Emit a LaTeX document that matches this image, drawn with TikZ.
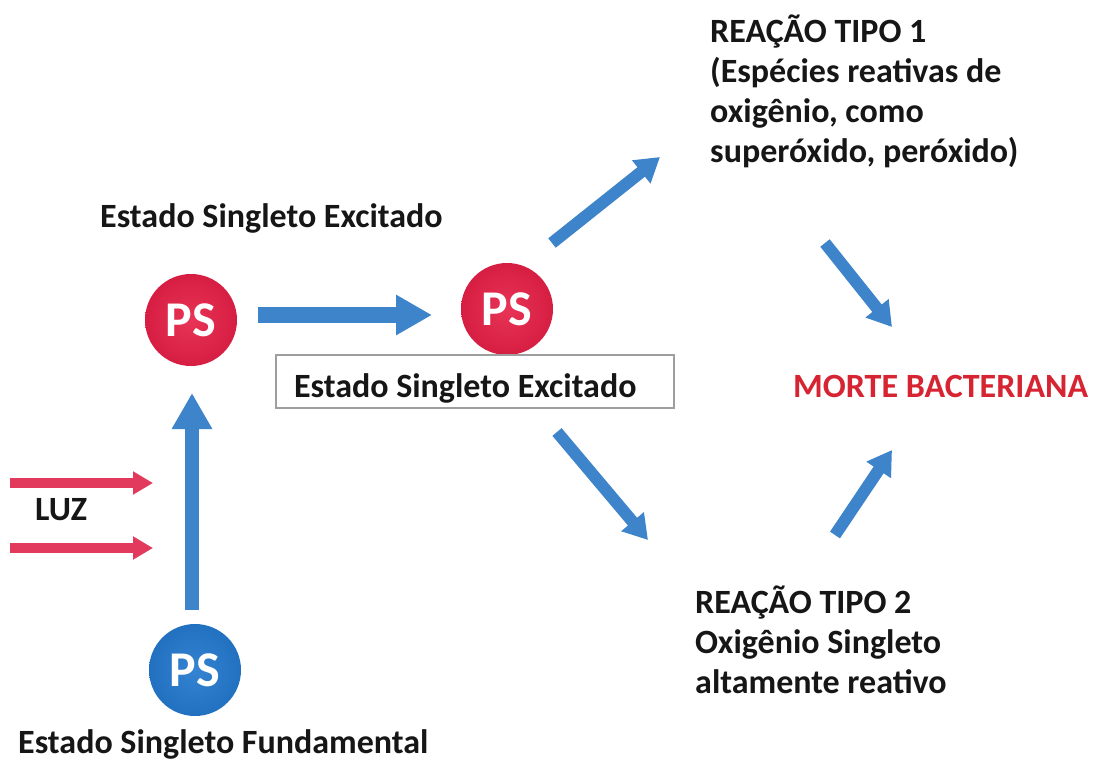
\documentclass[tikz,border=0pt]{standalone}
\usepackage{fontspec}
\setmainfont{Carlito}
\usetikzlibrary{arrows.meta}
\definecolor{arrblue}{RGB}{62,132,202}
\definecolor{psred}{RGB}{214,30,66}
\definecolor{psredin}{RGB}{232,52,86}
\definecolor{psblue}{RGB}{34,112,192}
\definecolor{psbluein}{RGB}{52,132,210}
\definecolor{luzred}{RGB}{226,58,92}
\definecolor{morte}{RGB}{214,36,50}
\definecolor{txt}{RGB}{22,22,22}
\tikzset{
  psball/.style={circle,minimum size=92pt,inner sep=0pt,text=white,font=\bfseries\fontsize{50}{50}\selectfont},
  lbl/.style={font=\bfseries\fontsize{34}{40}\selectfont,text=txt,align=left,inner sep=0pt},
  barrow/.style={draw=arrblue,line width=16pt,-{Triangle[width=38pt,length=36pt]}},
  darrow/.style={draw=arrblue,line width=12pt,-{Triangle[width=28pt,length=24pt]}},
  rarrow/.style={draw=luzred,line width=10pt,-{Triangle[width=22pt,length=20pt]}},
}
\begin{document}
\begin{tikzpicture}[x=1pt,y=-1pt]
\useasboundingbox (0,0) rectangle (1093,763);
\fill[white] (0,0) rectangle (1093,763);
% balls
\node[psball,inner color=psredin,outer color=psred] (ps1) at (191,320) {PS};
\node[psball,inner color=psredin,outer color=psred] (ps2) at (507,309) {PS};
\node[psball,inner color=psbluein,outer color=psblue] (ps0) at (195,670) {PS};
% labels
\node[lbl,anchor=base west] (t1) at (100,227) {Estado Singleto Excitado};
\node[lbl,draw=black!38,line width=2pt,anchor=base west,inner xsep=18pt,inner ysep=0pt,
      text width=362pt,align=flush left,text height=42pt,text depth=11pt] (box) at (275,397) {Estado Singleto Excitado};
\node[lbl,anchor=base west] (t0) at (18,753) {Estado Singleto Fundamental};
\node[lbl,anchor=base west] (luz) at (35,520) {LUZ};
\node[lbl,anchor=base west] (r1) at (710,162) {REAÇÃO TIPO 1\\(Espécies reativas de\\oxigênio, como\\superóxido, peróxido)};
\node[lbl,anchor=base west] (r2) at (695,693) {REAÇÃO TIPO 2\\Oxigênio Singleto\\altamente reativo};
\node[lbl,text=morte,anchor=base west] (morte) at (793,397) {MORTE BACTERIANA};
% coordinates for arrow ends
\coordinate (h1) at (258,315);
\coordinate (h2) at (432,315);
\coordinate (v1) at (192,610);
\coordinate (v2) at (192,393);
\coordinate (l1a) at (10,483);
\coordinate (l1b) at (153,483);
\coordinate (l2a) at (10,548);
\coordinate (l2b) at (153,548);
\coordinate (d1a) at (552,243);
\coordinate (d1b) at (660,157);
\coordinate (d2a) at (557,432);
\coordinate (d2b) at (648,540);
\coordinate (d3a) at (825,243);
\coordinate (d3b) at (892,327);
\coordinate (d4a) at (835,535);
\coordinate (d4b) at (892,450);
% arrows
\draw[barrow] (h1) -- (h2);
\draw[barrow,line width=14pt] (v1) -- (v2);
\draw[rarrow] (l1a) -- (l1b);
\draw[rarrow] (l2a) -- (l2b);
\draw[darrow] (d1a) -- (d1b);
\draw[darrow] (d2a) -- (d2b);
\draw[darrow] (d3a) -- (d3b);
\draw[darrow] (d4a) -- (d4b);
\end{tikzpicture}
\end{document}
